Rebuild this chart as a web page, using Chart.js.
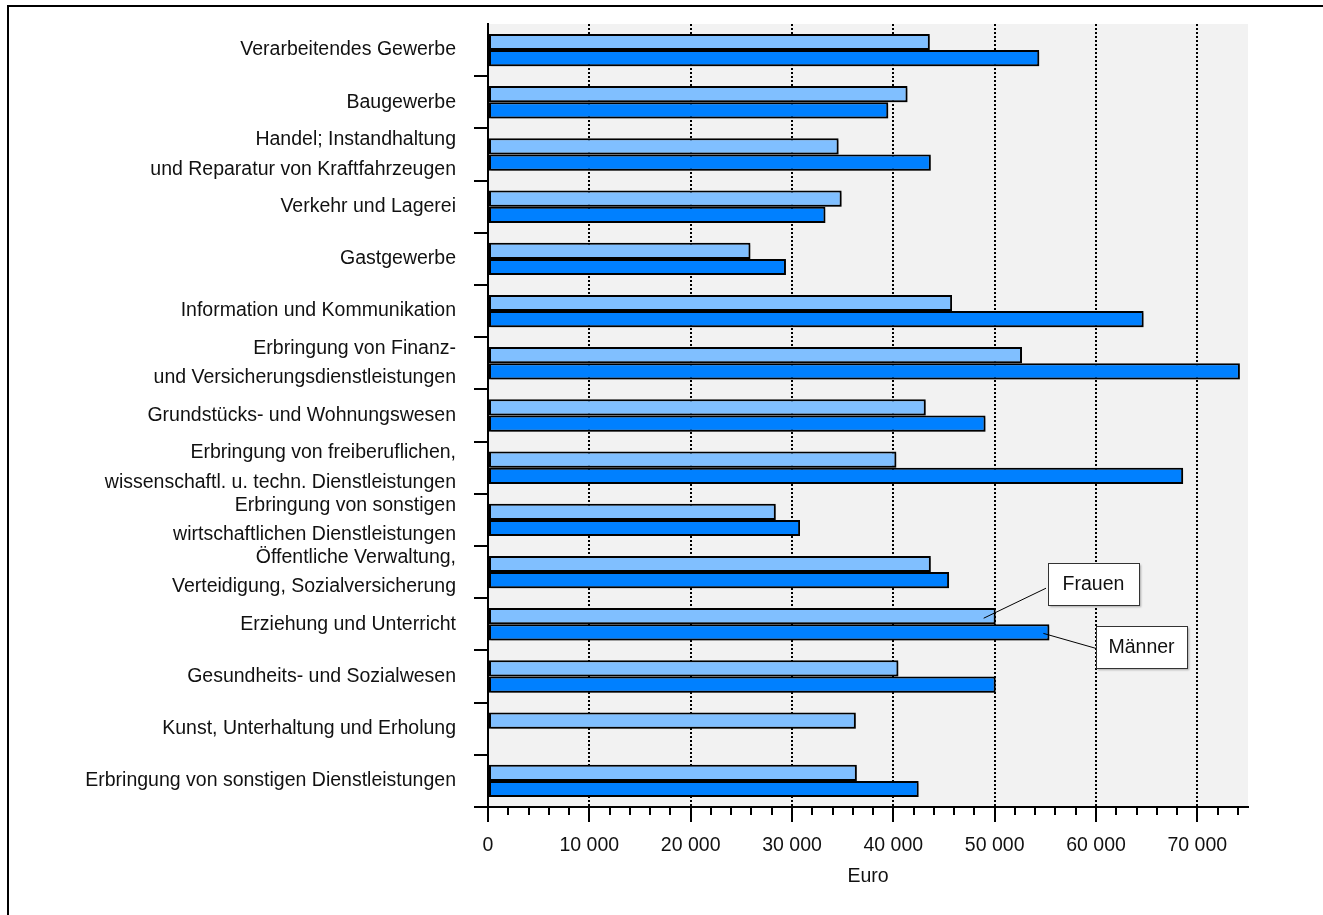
<!DOCTYPE html>
<html>
<head>
<meta charset="utf-8">
<script src="https://cdn.jsdelivr.net/npm/chart.js@4.4.0/dist/chart.umd.min.js"></script>
<style>
    body { margin: 0; background: #fff; }
    #wrap { position: relative; width: 1323px; height: 915px; overflow: hidden; }
    #frame { position: absolute; left: 7px; top: 5px; width: 1400px; height: 1000px; border: 2px solid #000; }
</style>
</head>
<body>
<div id="wrap">
    <div id="frame"></div>
    <canvas id="myChart"></canvas>
</div>
<script>

const kategorien = [
    'Verarbeitendes Gewerbe',
    'Baugewerbe',
    ['Handel; Instandhaltung', 'und Reparatur von Kraftfahrzeugen'],
    'Verkehr und Lagerei',
    'Gastgewerbe',
    'Information und Kommunikation',
    ['Erbringung von Finanz-', 'und Versicherungsdienstleistungen'],
    'Grundstücks- und Wohnungswesen',
    ['Erbringung von freiberuflichen,', 'wissenschaftl. u. techn. Dienstleistungen'],
    ['Erbringung von sonstigen', 'wirtschaftlichen Dienstleistungen'],
    ['Öffentliche Verwaltung,', 'Verteidigung, Sozialversicherung'],
    'Erziehung und Unterricht',
    'Gesundheits- und Sozialwesen',
    'Kunst, Unterhaltung und Erholung',
    'Erbringung von sonstigen Dienstleistungen'
]

const frauen = [43600, 41400, 34600, 34900, 25900, 45800, 52700, 43200, 40300, 28400, 43700, 50100, 40500, 36300, 36400]
const maenner = [54400, 39500, 43700, 33300, 29400, 64700, 74200, 49100, 68600, 30800, 45500, 55400, 50100, null, 42500]

const xTicks = [0, 10000, 20000, 30000, 40000, 50000, 60000, 70000]
const xMinorTicks = [2000, 4000, 6000, 8000, 12000, 14000, 16000, 18000, 22000, 24000, 26000, 28000,
    32000, 34000, 36000, 38000, 42000, 44000, 46000, 48000, 52000, 54000, 56000, 58000,
    62000, 64000, 66000, 68000, 72000, 74000]
const X_MIN = 0
const X_MAX = 75000

const SCHRIFT = "'Liberation Sans', Arial, sans-serif"
const GROESSE = 19.5

const formatZahl = (v) => String(v).replace(/\B(?=(\d{3})+(?!\d))/g, ' ')

// grauer Hintergrund der Zeichenfläche
const hintergrund = {
    id: 'hintergrund',
    beforeDraw(chart) {
        const { ctx, chartArea: a } = chart
        ctx.save()
        ctx.fillStyle = '#f2f2f2'
        ctx.fillRect(a.left, a.top, a.right - a.left, a.bottom - a.top)
        ctx.restore()
    }
}

// leichter Schatten unter den Balken
const schatten = {
    id: 'schatten',
    beforeDatasetsDraw(chart) {
        const ctx = chart.ctx
        ctx.save()
        ctx.shadowColor = 'rgba(0,0,0,0.3)'
        ctx.shadowOffsetX = 2
        ctx.shadowOffsetY = 2
        ctx.shadowBlur = 2
    },
    afterDatasetsDraw(chart) {
        chart.ctx.restore()
    }
}

// kleine Zwischenstriche an der x-Achse
const zwischenStriche = {
    id: 'zwischenStriche',
    afterDraw(chart) {
        const { ctx, scales: { x } } = chart
        ctx.save()
        ctx.strokeStyle = '#000'
        ctx.lineWidth = 2
        xMinorTicks.forEach(v => {
            const px = Math.round(x.getPixelForValue(v))
            ctx.beginPath()
            ctx.moveTo(px, x.top)
            ctx.lineTo(px, x.top + 8)
            ctx.stroke()
        })
        ctx.restore()
    }
}

// Beschriftung Frauen / Männer am Balken "Erziehung und Unterricht"
const legendeKasten = {
    id: 'legendeKasten',
    afterDraw(chart) {
        const { ctx, scales: { x } } = chart
        const idx = 11
        const barF = chart.getDatasetMeta(0).data[idx]
        const barM = chart.getDatasetMeta(1).data[idx]
        const kasten = (text, left, top, zx, zy, lx, ly) => {
            const w = 91, h = 42
            ctx.save()
            ctx.strokeStyle = '#000'
            ctx.lineWidth = 1
            ctx.beginPath()
            ctx.moveTo(lx, ly)
            ctx.lineTo(zx, zy)
            ctx.stroke()
            ctx.shadowColor = 'rgba(0,0,0,0.3)'
            ctx.shadowOffsetX = 2
            ctx.shadowOffsetY = 2
            ctx.shadowBlur = 2
            ctx.fillStyle = '#fff'
            ctx.fillRect(left, top, w, h)
            ctx.shadowColor = 'transparent'
            ctx.strokeStyle = '#333'
            ctx.strokeRect(left + 0.5, top + 0.5, w, h)
            ctx.fillStyle = '#111'
            ctx.font = GROESSE + 'px ' + SCHRIFT
            ctx.textAlign = 'center'
            ctx.textBaseline = 'middle'
            ctx.fillText(text, left + w / 2, top + h / 2 + 1)
            ctx.restore()
        }
        const fLeft = Math.round(x.getPixelForValue(55300))
        kasten('Frauen', fLeft, Math.round(barF.y) - 53, barF.x - 12, barF.y + 2, fLeft - 2, barF.y - 28)
        const mLeft = Math.round(x.getPixelForValue(60000))
        kasten('Männer', mLeft, Math.round(barM.y) - 6, barM.x - 6, barM.y + 1, mLeft, barM.y + 16)
    }
}

const ctx = document.getElementById('myChart')
const myChart = new Chart(ctx, {
    type: 'bar',
    data: {
        labels: kategorien,
        datasets: [{
            label: 'Frauen',
            data: frauen,
            backgroundColor: '#80bfff',
            borderColor: '#000',
            borderWidth: 2,
            borderSkipped: false,
            categoryPercentage: 0.62,
            barPercentage: 1.0
        }, {
            label: 'Männer',
            data: maenner,
            backgroundColor: '#0080ff',
            borderColor: '#000',
            borderWidth: 2,
            borderSkipped: false,
            categoryPercentage: 0.62,
            barPercentage: 1.0
        }]
    },
    options: {
        indexAxis: 'y',
        responsive: true,
        maintainAspectRatio: false,
        animation: false,
        layout: {
            padding: { top: 24, right: 75, left: 0, bottom: 0 }
        },
        plugins: {
            legend: { display: false },
            tooltip: { enabled: false }
        },
        scales: {
            x: {
                min: X_MIN,
                max: X_MAX,
                afterBuildTicks: (scale) => { scale.ticks = xTicks.map(v => ({ value: v })) },
                afterFit: (scale) => {
                    scale.height = 108
                    scale.paddingLeft = 0
                    scale.paddingRight = 0
                },
                ticks: {
                    maxRotation: 0,
                    autoSkip: false,
                    padding: 12,
                    color: '#111',
                    font: { family: SCHRIFT, size: GROESSE },
                    callback: (v) => formatZahl(v)
                },
                grid: {
                    color: '#000',
                    lineWidth: 2,
                    tickLength: 15,
                    tickBorderDash: []
                },
                border: {
                    color: '#000',
                    width: 2,
                    dash: [2, 2]
                },
                title: {
                    display: true,
                    text: 'Euro',
                    color: '#111',
                    font: { family: SCHRIFT, size: GROESSE },
                    padding: { top: 0, bottom: 27 }
                }
            },
            y: {
                afterFit: (scale) => {
                    scale.width = 488
                    scale.paddingTop = 0
                    scale.paddingBottom = 0
                },
                ticks: {
                    padding: 18,
                    autoSkip: false,
                    color: '#111',
                    font: { family: SCHRIFT, size: GROESSE, lineHeight: 1.5 }
                },
                grid: {
                    offset: true,
                    drawOnChartArea: false,
                    tickLength: 14,
                    lineWidth: 2,
                    color: (c) => (c.index === 0 || c.index === kategorien.length) ? 'rgba(0,0,0,0)' : '#000'
                },
                border: {
                    color: '#000',
                    width: 2
                }
            }
        }
    },
    plugins: [hintergrund, schatten, zwischenStriche, legendeKasten]
})

</script>
</body>
</html>
